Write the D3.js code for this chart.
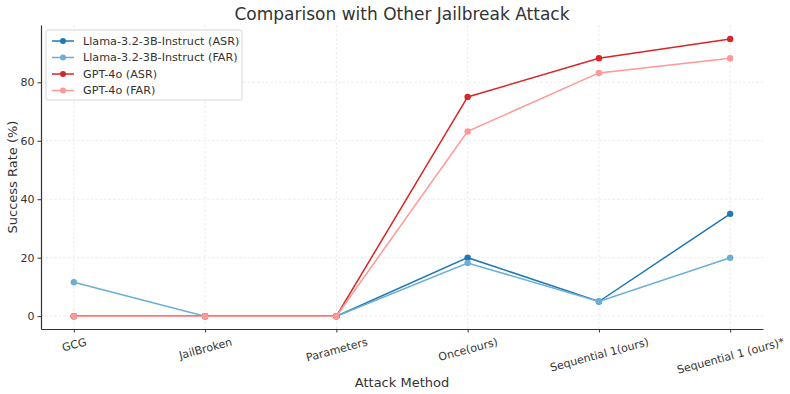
<!DOCTYPE html>
<meta charset="utf-8">
<script src="https://d3js.org/d3.v7.min.js"></script>
<style>
  body { margin: 0; background: #fff; }
  text { font-family: "DejaVu Sans", sans-serif; fill: #333; }
</style>
<div id="chart"></div>
<script>
// data
var methods = ["GCG", "JailBroken", "Parameters", "Once(ours)", "Sequential 1(ours)", "Sequential 1 (ours)*"];
var llamaASR = [0, 0, 0, 20, 5, 35];
var llamaFAR = [11.6, 0, 0, 18.2, 5, 20];
var gptASR = [0, 0, 0, 75, 88.2, 94.8];
var gptFAR = [0, 0, 0, 63.2, 83.2, 88.2];
var yTicks = [0, 20, 40, 60, 80];

var series = [
  { name: "Llama-3.2-3B-Instruct (ASR)", values: llamaASR, color: "#1f77b4" },
  { name: "Llama-3.2-3B-Instruct (FAR)", values: llamaFAR, color: "#6baed6" },
  { name: "GPT-4o (ASR)", values: gptASR, color: "#d62728" },
  { name: "GPT-4o (FAR)", values: gptFAR, color: "#ff9896" }
];

var W = 790, H = 394;
var margin = { top: 25, right: 27, bottom: 65, left: 41 };
var width = W - margin.left - margin.right,
    height = H - margin.top - margin.bottom;

var svg = d3.select("#chart").append("svg")
    .attr("width", W).attr("height", H);
var g = svg.append("g")
    .attr("transform", "translate(" + margin.left + "," + margin.top + ")");

// point scale with matplotlib-like 5% margins
var x = d3.scalePoint().domain(methods).range([0, width]).padding(0.25);
var y = d3.scaleLinear().domain([-4.4, 99.6]).range([height, 0]);

// grid
g.selectAll(".vgrid").data(methods).enter().append("line")
    .attr("x1", function (d) { return x(d); }).attr("x2", function (d) { return x(d); })
    .attr("y1", 0).attr("y2", height)
    .attr("stroke", "#e6e6e6").attr("stroke-dasharray", "2.5,2").attr("stroke-width", 0.8);
g.selectAll(".hgrid").data(yTicks).enter().append("line")
    .attr("x1", 0).attr("x2", width)
    .attr("y1", function (d) { return y(d); }).attr("y2", function (d) { return y(d); })
    .attr("stroke", "#e6e6e6").attr("stroke-dasharray", "2.5,2").attr("stroke-width", 0.8);

// axes
var xAxis = g.append("g")
    .attr("transform", "translate(0," + height + ")")
    .call(d3.axisBottom(x).tickSize(3.5).tickSizeOuter(0));

// rotated labels: box top fixed under the tick, centred on it
var ang = 15 * Math.PI / 180;
xAxis.selectAll(".tick text")
    .style("font-size", "11px")
    .attr("text-anchor", "middle")
    .attr("dominant-baseline", "central")
    .attr("y", 0).attr("dy", null)
    .attr("transform", function () {
      var w = this.getComputedTextLength(), h = 12;
      var bh = w * Math.sin(ang) + h * Math.cos(ang);
      return "translate(0," + (7 + bh / 2) + ") rotate(-15)";
    });

var yAxis = g.append("g")
    .call(d3.axisLeft(y).tickValues(yTicks).tickSize(3.5).tickSizeOuter(0));
yAxis.selectAll("text").style("font-size", "11px");

[xAxis, yAxis].forEach(function (a) {
  a.select(".domain").attr("stroke", "#333").attr("stroke-width", 1.2);
  a.selectAll(".tick line").attr("stroke", "#333");
});

// lines + points
var line = d3.line()
    .x(function (d, i) { return x(methods[i]); })
    .y(function (d) { return y(d); });

series.forEach(function (s) {
  g.append("path")
      .datum(s.values)
      .attr("fill", "none")
      .attr("stroke", s.color)
      .attr("stroke-width", 1.5)
      .attr("d", line);
  g.selectAll(null).data(s.values).enter().append("circle")
      .attr("cx", function (d, i) { return x(methods[i]); })
      .attr("cy", function (d) { return y(d); })
      .attr("r", 3.2)
      .attr("fill", s.color);
});

// legend
var leg = g.append("g").attr("transform", "translate(5,5)");
leg.append("rect")
    .attr("width", 196).attr("height", 70).attr("rx", 2)
    .attr("fill", "#fff").attr("fill-opacity", 0.8)
    .attr("stroke", "#d6d6d6");
series.forEach(function (s, i) {
  var ly = 11 + i * 16.5;
  leg.append("line")
      .attr("x1", 6).attr("x2", 28).attr("y1", ly).attr("y2", ly)
      .attr("stroke", s.color).attr("stroke-width", 1.5);
  leg.append("circle").attr("cx", 17).attr("cy", ly).attr("r", 3).attr("fill", s.color);
  leg.append("text")
      .attr("x", 37).attr("y", ly).attr("dy", "0.35em")
      .style("font-size", "11.2px")
      .text(s.name);
});

// titles
svg.append("text")
    .attr("x", margin.left + width / 2).attr("y", 20)
    .attr("text-anchor", "middle")
    .style("font-size", "17px")
    .text("Comparison with Other Jailbreak Attack");

svg.append("text")
    .attr("x", margin.left + width / 2).attr("y", 387)
    .attr("text-anchor", "middle")
    .style("font-size", "13px")
    .text("Attack Method");

svg.append("text")
    .attr("transform", "translate(17," + (margin.top + height / 2) + ") rotate(-90)")
    .attr("text-anchor", "middle")
    .style("font-size", "13px")
    .text("Success Rate (%)");
</script>
